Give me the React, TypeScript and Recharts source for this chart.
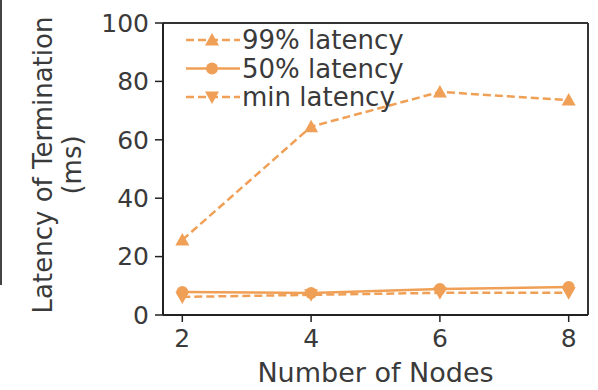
import React from 'react';
import { LineChart, Line, XAxis, YAxis, ReferenceLine } from 'recharts';

const nodes = [2, 4, 6, 8];
const p99 = [25.7, 64.5, 76.4, 73.6];
const p50 = [7.9, 7.5, 8.9, 9.6];
const pMin = [6.2, 6.9, 7.6, 7.6];
const yTicks = [0, 20, 40, 60, 80, 100];

const COLOR = '#f0a056';
const FONT = '"DejaVu Sans", sans-serif';
const FS = 25;
const TXT = '#3a3a3a';

const data = nodes.map((n, i) => ({ n, p99: p99[i], p50: p50[i], pMin: pMin[i] }));

const TriUp = (props: any) => {
  const { cx, cy } = props;
  if (cx == null || cy == null) return null;
  return <polygon points={`${cx},${cy - 7} ${cx - 7},${cy + 5.5} ${cx + 7},${cy + 5.5}`} fill={COLOR} />;
};
const TriDown = (props: any) => {
  const { cx, cy } = props;
  if (cx == null || cy == null) return null;
  return <polygon points={`${cx},${cy + 7} ${cx - 7},${cy - 5.5} ${cx + 7},${cy - 5.5}`} fill={COLOR} />;
};
const Circ = (props: any) => {
  const { cx, cy } = props;
  if (cx == null || cy == null) return null;
  return <circle cx={cx} cy={cy} r={6} fill={COLOR} />;
};

const legendRows = [
  { name: '99% latency', dash: '8 4', marker: 'up' },
  { name: '50% latency', dash: undefined, marker: 'circle' },
  { name: 'min latency', dash: '8 4', marker: 'down' },
];

const LegendBox = () => (
  <svg width={300} height={110} style={{ overflow: 'visible' }}>
    {legendRows.map((r, i) => {
      const y = 13 + i * 28.5;
      const cx = 28;
      return (
        <g key={r.name}>
          <line x1={2} x2={56} y1={y} y2={y} stroke={COLOR} strokeWidth={2.5} strokeDasharray={r.dash} />
          {r.marker === 'up' && <TriUp cx={cx} cy={y} />}
          {r.marker === 'down' && <TriDown cx={cx} cy={y} />}
          {r.marker === 'circle' && <Circ cx={cx} cy={y} />}
          <text x={58} y={y + 9} fontSize={26} fontFamily={FONT} fill={TXT}>{r.name}</text>
        </g>
      );
    })}
  </svg>
);

const YLabel = () => (
  <g>
    <text transform="translate(52,165) rotate(-90)" textAnchor="middle" fontSize={26} fontFamily={FONT} fill={TXT}>
      Latency of Termination
    </text>
    <text transform="translate(81,165) rotate(-90)" textAnchor="middle" fontSize={26} fontFamily={FONT} fill={TXT}>
      (ms)
    </text>
  </g>
);

export default function App() {
  return (
    <div style={{ position: 'absolute', left: 0, top: 0, width: 598, height: 390, background: '#fff' }}>
      <div style={{ position: 'absolute', left: 0, top: 0, width: 2, height: 285, background: '#444' }} />
      <LineChart width={598} height={390} data={data} margin={{ top: 23, right: 10, bottom: 30, left: 93 }}>
        <XAxis
          dataKey="n"
          type="number"
          domain={[1.7, 8.3]}
          ticks={nodes}
          height={45}
          tickSize={7}
          tick={{ fontSize: FS, fontFamily: FONT, fill: TXT, dy: 5 }}
          stroke="#222"
          strokeWidth={2}
          tickLine={{ stroke: '#222', strokeWidth: 1.5 }}
          label={{ value: 'Number of Nodes', position: 'insideBottom', offset: -22, fontSize: 27, fontFamily: FONT, fill: TXT }}
        />
        <YAxis
          type="number"
          domain={[0, 100]}
          ticks={yTicks}
          width={70}
          tickSize={8}
          tick={{ fontSize: FS, fontFamily: FONT, fill: TXT, dx: -4 }}
          stroke="#222"
          strokeWidth={2}
          tickLine={{ stroke: '#222', strokeWidth: 1.5 }}
          label={<YLabel />}
        />
        <ReferenceLine y={100} stroke="#333" strokeWidth={2} ifOverflow="visible" />
        <ReferenceLine x={8.3} stroke="#333" strokeWidth={2} ifOverflow="visible" />
        <Line dataKey="p99" name="99% latency" stroke={COLOR} strokeWidth={2.5} strokeDasharray="8 4" dot={<TriUp />} isAnimationActive={false} />
        <Line dataKey="p50" name="50% latency" stroke={COLOR} strokeWidth={2.5} dot={<Circ />} isAnimationActive={false} />
        <Line dataKey="pMin" name="min latency" stroke={COLOR} strokeWidth={2.5} strokeDasharray="8 4" dot={<TriDown />} isAnimationActive={false} />
      </LineChart>
      <div style={{ position: 'absolute', left: 184, top: 27 }}>
        <LegendBox />
      </div>
    </div>
  );
}
